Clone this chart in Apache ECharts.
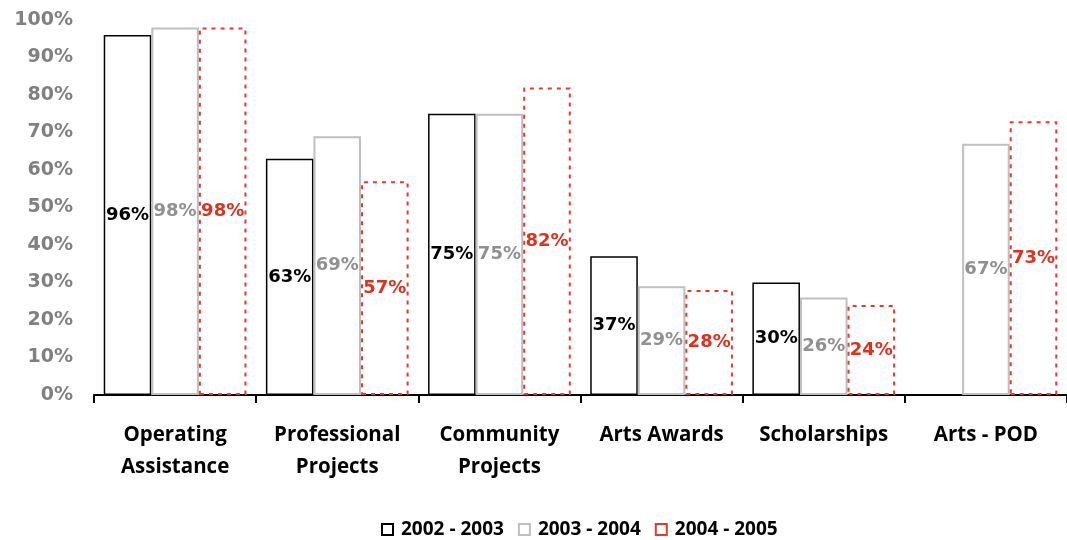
<!DOCTYPE html>
<html><head><meta charset="utf-8">
<script src="https://cdn.jsdelivr.net/npm/echarts@6/dist/echarts.min.js"></script>
<style>html,body{margin:0;padding:0;background:#fff}#c{width:1067px;height:540px}</style>
</head><body><div id="c"></div>
<script>
const categories = ['Operating\nAssistance', 'Professional\nProjects', 'Community\nProjects', 'Arts Awards', 'Scholarships', 'Arts - POD'];
const s2002 = [96, 63, 75, 37, 30, null];
const s2003 = [98, 69, 75, 29, 26, 67];
const s2004 = [98, 57, 82, 28, 24, 73];
const yTicks = [0, 10, 20, 30, 40, 50, 60, 70, 80, 90, 100];

const font = '"Open Sans", "Noto Sans", sans-serif';
const numFont = '"DejaVu Sans", "Open Sans", sans-serif';
const chart = echarts.init(document.getElementById('c'));
function lbl(color){
  return {show:true, position:'inside', formatter: p => p.value + '%', color: color,
    fontFamily: numFont, fontWeight:'bold', fontSize:18};
}
chart.setOption({
  animation:false,
  grid:{left:94, right:-4, top:20, bottom:145},
  legend:{bottom:-4, left:376, itemWidth:11, itemHeight:11, itemGap:14, icon:'rect',
    textStyle:{fontFamily:font, fontWeight:'bold', fontSize:19, color:'#000', padding:[0,0,0,3]},
    data:['2002 - 2003','2003 - 2004','2004 - 2005']},
  xAxis:{type:'category', data:categories,
    axisLine:{lineStyle:{color:'#000', width:2}},
    axisTick:{show:true, length:8, lineStyle:{color:'#000', width:2}},
    axisLabel:{fontFamily:font, fontWeight:'bold', fontSize:20.5, color:'#000', lineHeight:32, margin:24, interval:0}},
  yAxis:{type:'value', min:0, max:100, interval:10,
    axisLine:{show:false}, axisTick:{show:false}, splitLine:{show:false},
    axisLabel:{formatter:'{value}%', fontFamily:numFont, fontWeight:'bold', fontSize:19, color:'#808080', margin:21}},
  series:[
    {name:'2002 - 2003', type:'bar', data:s2002, barGap:'0%', barCategoryGap:'12%',
      itemStyle:{color:'#fff', borderColor:'#000', borderWidth:1.5}, label:lbl('#000')},
    {name:'2003 - 2004', type:'bar', data:s2003,
      itemStyle:{color:'#fff', borderColor:'#bfbfbf', borderWidth:2}, label:lbl('#909090')},
    {name:'2004 - 2005', type:'bar', data:s2004,
      itemStyle:{color:'rgba(255,255,255,0)', borderColor:'#e8392b', borderWidth:2, borderType:[4,5]}, label:lbl('#e0301e')}
  ]
});
</script></body></html>
